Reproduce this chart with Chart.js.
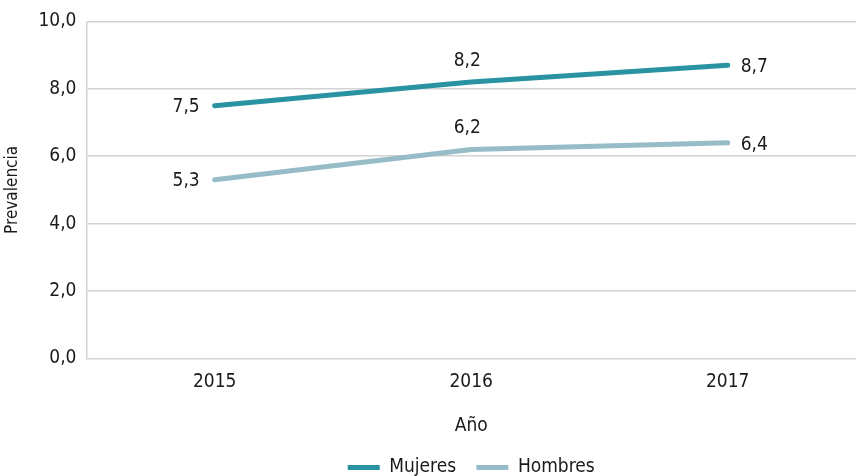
<!DOCTYPE html>
<html>
<head>
<meta charset="utf-8">
<script src="https://cdn.jsdelivr.net/npm/chart.js@4.4.0/dist/chart.umd.min.js"></script>
<style>
  html, body { margin: 0; padding: 0; background: #fff; }
  #wrap { width: 856px; height: 476px; }
</style>
</head>
<body>
<div id="wrap"><canvas id="chart1"></canvas></div>
<script>
const years = ['2015', '2016', '2017'];
const mujeres = [7.5, 8.2, 8.7];
const hombres = [5.3, 6.2, 6.4];
const yTicks = [0, 2, 4, 6, 8, 10];

const FONT = "'Liberation Sans Narrow', 'DejaVu Sans Condensed', 'Roboto', sans-serif";
const fmt = v => v.toFixed(1).replace('.', ',');

// value labels next to each point: left of the first, above the middle, right of the last
const pointLabels = {
    id: 'pointLabels',
    afterDatasetsDraw(chart) {
        const ctx = chart.ctx;
        ctx.save();
        ctx.font = '19px ' + FONT;
        ctx.fillStyle = '#1a1a1a';
        ctx.textBaseline = 'middle';
        chart.data.datasets.forEach((ds, i) => {
            chart.getDatasetMeta(i).data.forEach((pt, j) => {
                const txt = fmt(ds.data[j]);
                if (j === 0) {
                    ctx.textAlign = 'right';
                    ctx.fillText(txt, pt.x - 15, pt.y + 1);
                } else if (j === ds.data.length - 1) {
                    ctx.textAlign = 'left';
                    ctx.fillText(txt, pt.x + 13, pt.y + 2);
                } else {
                    ctx.textAlign = 'center';
                    ctx.fillText(txt, pt.x - 4, pt.y - 21);
                }
            });
        });
        ctx.restore();
    }
};

window.onload = function () {

    let chart1 = document.getElementById('chart1').getContext('2d');

    let lineChart = new Chart(chart1, {
        type: 'line',
        data: {
            labels: years,
            datasets: [{
                label: 'Mujeres',
                data: mujeres,
                borderColor: '#2993a2',
                backgroundColor: '#2993a2',
                borderWidth: 5,
                borderCapStyle: 'round',
                pointRadius: 0,
                tension: 0
            },
            {
                label: 'Hombres',
                data: hombres,
                borderColor: '#96bdc7',
                backgroundColor: '#96bdc7',
                borderWidth: 5,
                borderCapStyle: 'round',
                pointRadius: 0,
                tension: 0
            }]
        },
        options: {
            responsive: true,
            maintainAspectRatio: false,
            animation: false,
            layout: { padding: { top: 8, left: 2, right: 0, bottom: -11 } },
            plugins: {
                legend: {
                    position: 'bottom',
                    fullSize: false,
                    labels: {
                        usePointStyle: true,
                        pointStyle: 'line',
                        pointStyleWidth: 32,
                        boxHeight: 5,
                        padding: 4,
                        color: '#1a1a1a',
                        font: { family: FONT, size: 19 },
                        generateLabels: chart => {
                            const items = Chart.defaults.plugins.legend.labels.generateLabels(chart);
                            items.forEach((it, k) => { if (k < items.length - 1) it.text = it.text + '   '; });
                            return items;
                        }
                    }
                },
                tooltip: { enabled: false }
            },
            scales: {
                x: {
                    offset: true,
                    grid: { display: false, drawTicks: false },
                    border: { display: false },
                    ticks: {
                        padding: 12,
                        color: '#1a1a1a',
                        font: { family: FONT, size: 19 }
                    },
                    title: {
                        display: true,
                        text: 'Año',
                        color: '#1a1a1a',
                        padding: { top: 9, bottom: 17 },
                        font: { family: FONT, size: 19 }
                    }
                },
                y: {
                    min: 0,
                    max: 10,
                    afterBuildTicks: axis => { axis.ticks = yTicks.map(v => ({ value: v })); },
                    grid: { color: '#d3d3d3', lineWidth: 1.5, drawTicks: false },
                    border: { color: '#d3d3d3', width: 1.5 },
                    ticks: {
                        padding: 10,
                        color: '#1a1a1a',
                        font: { family: FONT, size: 19 },
                        callback: v => fmt(v)
                    },
                    title: {
                        display: true,
                        text: 'Prevalencia',
                        color: '#1a1a1a',
                        padding: { top: 0, bottom: 6 },
                        font: { family: FONT, size: 17 }
                    }
                }
            }
        },
        plugins: [pointLabels]
    });
}
</script>
</body>
</html>
